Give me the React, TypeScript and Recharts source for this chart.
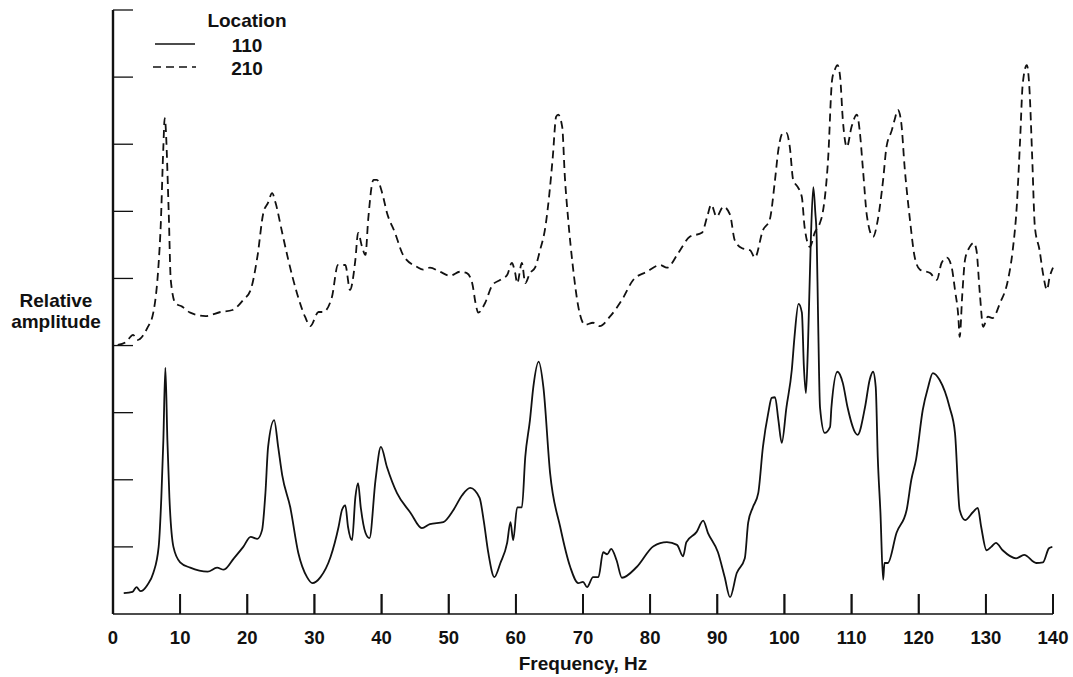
import { LineChart, Line, XAxis, YAxis, Scatter } from 'recharts';

// Location 110 (solid, lower trace)
const freq110 = [
  1.6, 2.9, 3.5, 4.1, 5.1, 6.0, 6.8, 7.2, 7.5, 7.8, 8.1, 8.4, 9.0, 10.0, 11.5, 14.1, 15.5, 16.5, 18.0, 19.4,
  20.5, 21.5, 22.2, 22.7, 23.1, 24.0, 24.6, 25.2, 26.4, 27.6, 28.9, 29.7, 30.9, 32.4, 33.6, 34.1, 34.6, 35.0,
  35.6, 36.1, 36.5, 36.9, 37.6, 38.2, 39.1, 39.9, 40.8, 42.3, 44.3, 46.0, 47.2, 49.2, 50.7, 52.0, 53.2, 54.6,
  55.2, 55.9, 56.8, 57.7, 58.7, 59.2, 59.6, 60.2, 60.9, 61.4, 62.1, 62.6, 63.4, 64.1, 65.1, 66.6, 68.1, 69.3,
  70.0, 70.6, 71.5, 72.3, 73.0, 73.6, 74.2, 75.0, 75.8, 78.0, 80.5, 82.5, 84.0, 84.9, 85.4, 86.9, 87.9, 88.6,
  90.1, 91.1, 91.9, 92.9, 94.1, 94.6, 95.3, 96.1, 96.8, 97.6, 98.1, 98.6, 99.1, 99.6, 100.3, 101.1, 101.5,
  102.1, 102.6, 102.9, 103.2, 103.5, 103.9, 104.3, 104.6, 104.8, 105.0, 105.3, 106.0, 106.8, 107.0, 107.9,
  108.7, 109.4, 110.9, 112.0, 112.7, 113.2, 113.6, 113.9, 114.3, 114.7, 114.9, 115.4, 116.7, 118.2, 118.9,
  119.6, 120.6, 121.4, 122.1, 123.1, 124.6, 125.4, 126.1, 126.9, 128.1, 128.8, 129.3, 130.1, 130.8, 131.5,
  132.5, 134.5, 135.7, 137.5, 138.5, 139.4, 139.9,
];
const amp110 = [
  0.31, 0.33, 0.4, 0.34, 0.43, 0.61, 1.0, 1.74, 2.59, 3.67, 2.59, 1.74, 1.0, 0.77, 0.69, 0.63, 0.69, 0.66, 0.83, 1.0,
  1.15, 1.12, 1.25, 1.8, 2.49, 2.89, 2.49, 2.07, 1.59, 0.91, 0.55, 0.46, 0.55, 0.85, 1.3, 1.55, 1.62, 1.3,
  1.1, 1.74, 1.95, 1.59, 1.21, 1.13, 2.0, 2.49, 2.19, 1.8, 1.51, 1.28, 1.34, 1.37, 1.55, 1.77, 1.88, 1.73,
  1.4, 0.91, 0.55, 0.76, 1.06, 1.37, 1.1, 1.59, 1.59, 2.34, 2.89, 3.38, 3.76, 3.38, 2.1, 1.3, 0.7, 0.46,
  0.48, 0.4, 0.55, 0.55, 0.92, 0.89, 0.97, 0.8, 0.54, 0.7, 1.01, 1.07, 1.03, 0.86, 1.07, 1.22, 1.39, 1.21,
  0.92, 0.55, 0.25, 0.61, 0.83, 1.36, 1.59, 1.8, 2.49, 3.0, 3.22, 3.23, 2.89, 2.55, 3.08, 3.64, 4.13,
  4.62, 4.49, 3.68, 3.29, 3.98, 5.47, 6.36, 5.98, 5.62, 4.49, 3.08, 2.7, 2.79, 3.08, 3.61,
  3.44, 3.08, 2.67, 3.08, 3.49, 3.61, 3.38, 2.34, 1.51, 0.51, 0.76, 0.76, 1.21, 1.55, 2.0,
  2.3, 3.04, 3.38, 3.59, 3.49, 3.08, 2.7, 1.55, 1.4, 1.52, 1.58, 1.3, 0.95, 1.0, 1.06,
  0.95, 0.83, 0.88, 0.76, 0.77, 0.98, 1.0,
];

// Location 210 (dashed, upper trace)
const freq210 = [
  0.7, 1.9, 3.0, 3.6, 5.1, 6.0, 6.8, 7.1, 7.5, 7.7, 8.3, 8.6, 9.3, 10.3, 11.5, 13.8, 16.0, 17.8, 19.4, 20.5,
  21.5, 22.4, 23.1, 23.7, 24.2, 25.2, 26.1, 27.4, 28.6, 29.4, 30.6, 31.3, 32.6, 33.5, 34.6, 35.3, 36.1, 36.5,
  37.1, 37.6, 38.0, 38.8, 39.3, 40.1, 40.8, 42.0, 43.2, 45.3, 46.2, 47.2, 48.7, 50.2, 51.7, 52.7, 53.5, 54.0,
  54.4, 55.4, 56.5, 57.7, 58.7, 59.4, 59.9, 60.2, 60.9, 61.4, 62.1, 62.9, 63.6, 64.4, 65.0, 65.5, 66.0, 66.3,
  66.9, 67.3, 67.8, 68.5, 69.3, 70.3, 71.5, 72.5, 74.0, 75.8, 77.5, 79.5, 81.5, 82.5, 84.2, 85.9, 87.7, 88.5,
  89.1, 89.9, 90.9, 91.9, 92.6, 93.7, 94.9, 95.6, 96.8, 97.8, 98.6, 99.1, 99.8, 100.3, 100.8, 101.3, 102.0,
  102.6, 103.0, 103.8, 104.5, 105.3, 105.7, 106.5, 107.1, 107.5, 107.9, 108.3, 108.7, 109.3, 110.0, 110.8,
  111.2, 111.7, 112.3, 113.2, 113.9, 114.7, 115.2, 116.0, 116.4, 116.9, 117.4, 117.9, 118.7, 119.4, 120.2,
  121.7, 122.7, 123.4, 124.2, 124.9, 125.4, 125.9, 126.1, 126.5, 126.9, 127.6, 128.2, 128.6, 129.1, 129.6,
  130.3, 131.0, 132.1, 133.3, 134.0, 134.6, 135.1, 135.5, 136.1, 136.5, 136.9, 137.3, 138.0, 138.5, 139.1,
  139.5, 140.0,
];
const amp210 = [
  4.01, 4.05, 4.16, 4.08, 4.26, 4.49, 5.23, 5.77, 6.96, 7.39, 5.98, 4.98, 4.63, 4.58, 4.49, 4.44, 4.5, 4.53, 4.68, 4.83,
  5.32, 5.98, 6.13, 6.27, 6.13, 5.68, 5.28, 4.78, 4.43, 4.29, 4.5, 4.5, 4.72, 5.2, 5.2, 4.83, 5.28, 5.68,
  5.47, 5.35, 5.87, 6.47, 6.47, 6.27, 5.98, 5.68, 5.35, 5.17, 5.13, 5.16, 5.1, 5.04, 5.1, 5.08, 4.93, 4.63,
  4.49, 4.63, 4.9, 4.98, 5.05, 5.23, 5.08, 4.93, 5.23, 4.93, 5.08, 5.17, 5.42, 5.77, 6.27, 6.81, 7.41, 7.44,
  7.26, 6.51, 5.87, 5.17, 4.58, 4.31, 4.34, 4.29, 4.43, 4.68, 4.98, 5.1, 5.2, 5.16, 5.38, 5.62, 5.68, 5.92,
  6.1, 5.92, 6.07, 5.95, 5.57, 5.45, 5.42, 5.31, 5.72, 5.87, 6.47, 6.92, 7.17, 7.17, 6.96, 6.47, 6.36,
  6.21, 5.77, 5.47, 5.68, 5.83, 5.98, 6.77, 7.96, 8.11, 8.18, 8.0, 7.36, 6.96, 7.26, 7.44,
  7.21, 6.62, 5.92, 5.62, 5.87, 6.47, 6.96, 7.21, 7.36, 7.51, 7.32, 6.66, 5.87, 5.32, 5.13,
  5.08, 4.98, 5.23, 5.31, 5.17, 4.83, 4.43, 4.13, 4.78, 5.28, 5.47, 5.53, 5.42, 4.78, 4.28,
  4.43, 4.41, 4.63, 4.98, 5.42, 6.07, 7.06, 7.91, 8.18, 7.81, 6.81, 5.77, 5.42, 5.08, 4.83,
  5.02, 5.16,
];

const freqTicks = [0, 10, 20, 30, 40, 50, 60, 70, 80, 90, 100, 110, 120, 130, 140];
const ampTicks = [0, 1, 2, 3, 4, 5, 6, 7, 8, 9];
const seriesNames = ['110', '210'];
const legendTitle = 'Location';
const xTitle = 'Frequency, Hz';
const yTitle = ['Relative', 'amplitude'];

const toPoints = (f: number[], a: number[]) => f.map((x, i) => ({ freq: x, amp: a[i] }));
const data110 = toPoints(freq110, amp110);
const data210 = toPoints(freq210, amp210);
// foot points of the inward x tick marks (the 0 mark would sit on the y axis)
const xTickBase = freqTicks.filter((f) => f !== 0).map((f) => ({ freq: f, amp: 0 }));

const FONT = '"Liberation Sans", Arial, Helvetica, sans-serif';
const INK = '#111';
const DASH = '8 5';
const TICK_LEN = 20;

const FreqTick = (props: any) => {
  const { x, y, payload } = props;
  return (
    <g>
      {payload.value !== 0 && <line x1={x} x2={x} y1={y} y2={y - TICK_LEN} stroke={INK} strokeWidth={1.8} />}
      <text x={x} y={y + 30} textAnchor="middle" fontSize={18.5} fontWeight={700} fill={INK} fontFamily={FONT}>
        {payload.value}
      </text>
    </g>
  );
};

const XTickMark = (props: any) => (
  <line x1={props.cx} x2={props.cx} y1={props.cy} y2={props.cy - TICK_LEN} stroke={INK} strokeWidth={1.8} />
);

// y ticks: inward marks only, no numbers
const AmpTick = (props: any) => {
  const { x, y, payload } = props;
  if (payload.value === 0) return <g />;
  return <line x1={x} x2={x + TICK_LEN} y1={y} y2={y} stroke={INK} strokeWidth={1.3} />;
};

const txt = { fontSize: 19, fontWeight: 700, fill: INK, fontFamily: FONT } as const;

// legend and axis titles, laid over the chart
const Annotations = () => (
  <svg width={1073} height={677} style={{ position: 'absolute', left: 0, top: 0, pointerEvents: 'none' }}>
    <text x={247} y={27} textAnchor="middle" {...txt}>{legendTitle}</text>
    <line x1={155} x2={195} y1={44} y2={44} stroke={INK} strokeWidth={1.4} />
    <text x={247} y={52} textAnchor="middle" {...txt}>{seriesNames[0]}</text>
    <line x1={153} x2={196} y1={67} y2={67} stroke={INK} strokeWidth={1.4} strokeDasharray={DASH} />
    <text x={247} y={75} textAnchor="middle" {...txt}>{seriesNames[1]}</text>
    <text x={583} y={670} textAnchor="middle" {...txt}>{xTitle}</text>
    <text textAnchor="middle" {...txt}>
      <tspan x={56} y={307}>{yTitle[0]}</tspan>
      <tspan x={56} y={328}>{yTitle[1]}</tspan>
    </text>
  </svg>
);

export default function App() {
  return (
    <div style={{ position: 'relative', width: 1073, height: 677, fontFamily: FONT }}>
      <style>{'body { margin: 0; }'}</style>
      <LineChart width={1073} height={677} margin={{ top: 10, right: 20, bottom: 33, left: 53 }}>
        <XAxis
          type="number"
          dataKey="freq"
          domain={[0, 140]}
          ticks={freqTicks}
          height={30}
          tickSize={0}
          tickMargin={0}
          tickLine={false}
          axisLine={{ stroke: INK, strokeWidth: 1.6 }}
          tick={FreqTick}
        />
        <YAxis
          type="number"
          dataKey="amp"
          domain={[0, 9]}
          ticks={ampTicks}
          width={60}
          tickSize={0}
          tickMargin={0}
          tickLine={false}
          tick={AmpTick}
          axisLine={{ stroke: INK, strokeWidth: 2.4 }}
        />
        <Scatter data={xTickBase} dataKey="amp" shape={XTickMark} isAnimationActive={false} />
        <Line
          data={data110}
          dataKey="amp"
          name={seriesNames[0]}
          type="monotone"
          stroke={INK}
          strokeWidth={1.8}
          dot={false}
          isAnimationActive={false}
        />
        <Line
          data={data210}
          dataKey="amp"
          name={seriesNames[1]}
          type="monotone"
          stroke={INK}
          strokeWidth={1.8}
          strokeDasharray={DASH}
          dot={false}
          isAnimationActive={false}
        />
      </LineChart>
      <Annotations />
    </div>
  );
}
